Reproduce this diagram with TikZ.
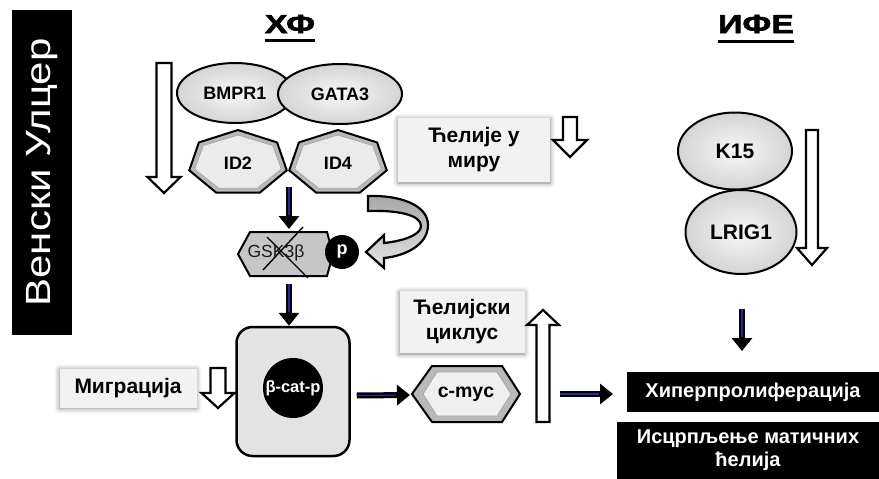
\documentclass[tikz,border=0pt]{standalone}
\usepackage{fontspec}
\setmainfont{Liberation Sans}
\newfontfamily\wideVert[FakeStretch=1.2]{Liberation Sans}
\newfontfamily\titlefont[FakeStretch=1.3,FakeBold=2.5]{Liberation Sans Bold}
\usetikzlibrary{arrows.meta,shadows.blur,calc,shapes.geometric}
\definecolor{boxgray}{HTML}{F2F2F2}
\definecolor{navyline}{RGB}{40,40,150}
\newcommand{\myHArrow}[6]{%
  \draw[hollow] ({#1-#4},{#2}) -- ({#1-#4},{#3-(#6)}) -- ({#1-#5},{#3-(#6)}) -- ({#1},{#3}) -- ({#1+#5},{#3-(#6)}) -- ({#1+#4},{#3-(#6)}) -- ({#1+#4},{#2}) -- cycle;}
\newcommand{\myFS}[1]{\fontsize{#1}{#1}\selectfont}
\begin{document}
\begin{tikzpicture}[x=1pt,y=-1pt,
  hollow/.style={draw=black,line width=2.2pt,fill=white,line join=miter},
  darr/.style={line width=6pt,-{Triangle[width=20pt,length=13pt]}},
  darrin/.style={line width=1.2pt,draw=navyline,shorten >=14pt},
  ell/.style={ellipse,draw,line width=2pt,inner color=gray!6,outer color=gray!34,inner sep=0pt,font=\bfseries\myFS{18}},
  sbox/.style={fill=boxgray,inner sep=0pt,align=center,font=\bfseries\fontsize{21}{25}\selectfont,
    blur shadow={shadow xshift=0pt,shadow yshift=-1pt,shadow blur radius=5pt,shadow opacity=50}},
  blkbox/.style={fill=black,text=white,inner sep=0pt,align=center,font=\bfseries\fontsize{20}{23}\selectfont},
  heptout/.style={draw=black,line width=2pt,fill=gray!55,line join=miter},
  heptin/.style={draw=gray!70,line width=0.8pt,fill=gray!16},
  lbl/.style={inner sep=0pt,font=\bfseries\myFS{18}},
  ttl/.style={inner sep=0pt,font=\titlefont\myFS{26}}
]
\useasboundingbox (0,0) rectangle (879,479);

% left vertical bar
\node[fill=black,text=white,rotate=90,minimum width=325pt,minimum height=60pt,inner sep=0pt,font=\wideVert\myFS{35}] (vb) at (42,172.5) {Венски Улцер};

% titles
\node[ttl,anchor=base] (hf) at (290,33) {ХФ};
\draw[line width=3pt] ($(hf.base west)+(0,7)$) -- ($(hf.base east)+(0,7)$);
\node[ttl,anchor=base] (ife) at (756,33) {ИФЕ};
\draw[line width=3pt] ($(ife.base west)+(0,8)$) -- ($(ife.base east)+(0,8)$);

% heptagons ID2, ID4
\coordinate (id2c) at (238,163);
\coordinate (id4c) at (338,163);
\foreach \c in {id2c,id4c}{
  \begin{scope}[shift={(\c)}]
    \draw[heptout] (270:50 and 33) \foreach \k in {1,...,6}{ -- ({270+\k*360/7}:50 and 33)} -- cycle;
    \draw[heptin] (270:44.5 and 28) \foreach \k in {1,...,6}{ -- ({270+\k*360/7}:44.5 and 28)} -- cycle;
  \end{scope}
}
\node[lbl] (id2) at (id2c) {ID2};
\node[lbl] (id4) at (id4c) {ID4};

% ellipses
\node[ell,minimum width=116pt,minimum height=60pt] (bmpr) at (235,93) {BMPR1};
\node[ell,minimum width=124pt,minimum height=60pt] (gata) at (340,94) {GATA3};

% left hollow arrow
\myHArrow{164}{63}{193}{7.5}{16.5}{16}

% GSK3b
\draw[draw=black,line width=2pt,fill=gray!45,line join=miter] (238,254) -- (250,232) -- (327,232) -- (333,254) -- (327,276) -- (250,276) -- cycle;
\node[inner sep=0pt,text=gray!20!black,font=\myFS{17.5}] (gsk) at (276,253) {GSK3β};
\draw[line width=1.4pt] (267,237) -- (308,278);
\draw[line width=1.4pt] (303,227) -- (263,270);
\node[circle,fill=black,minimum size=34pt,inner sep=0pt,text=white,font=\bfseries\myFS{18}] (p) at (342,252) {p};

% curved arrow
\draw[line width=2.2pt,top color=gray!70,bottom color=gray!22,line join=miter]
  (368,196) .. controls (400,195) and (428,205) .. (428,225)
  .. controls (428,245) and (405,256) .. (384,258)
  -- (384,268) -- (366,252) -- (384,235) -- (384,243)
  .. controls (403,241) and (421,235) .. (421,226)
  .. controls (421,215) and (398,210) .. (368,211) -- cycle;

% quiet cells box
\node[sbox,minimum width=152pt,minimum height=64pt] (miru) at (474,150) {Ћелије у\\миру};
\myHArrow{570}{117}{157}{7}{17}{17}

% dark arrow ID -> GSK
\coordinate (idj) at (289,187);
\coordinate (gsktop) at (289,229);
\draw[darr] (idj) -- (gsktop);
\draw[darrin] (idj) -- (gsktop);

% beta-catenin box
\node[draw=black,line width=2.5pt,rounded corners=16pt,fill=gray!22,minimum width=113pt,minimum height=129pt] (catbox) at (293,391.5) {};
\node[circle,fill=black,minimum size=60pt,inner sep=0pt,text=white,font=\bfseries\myFS{16.5}] (cat) at (293,388) {β-cat-p};
\coordinate (gskbot) at (289,284);
\draw[darr] (gskbot) -- (catbox.north -| gskbot);
\draw[darrin] (gskbot) -- (catbox.north -| gskbot);

% migration
\node[sbox,minimum width=137pt,minimum height=39pt] (migr) at (128,388) {Миграција};
\myHArrow{218}{368}{408}{7.5}{16.5}{15}

% c-myc
\draw[draw=black,line width=2pt,fill=gray!55,line join=miter] (412,394) -- (432,366) -- (502,366) -- (520,394) -- (502,422) -- (432,422) -- cycle;
\draw[draw=gray!70,line width=0.8pt,fill=gray!12] (423,394) -- (437,372) -- (497,372) -- (511,394) -- (497,416) -- (437,416) -- cycle;
\node[inner sep=0pt,font=\bfseries\myFS{19.5}] (cmyc) at (466,394) {c-myc};
\coordinate (cmycw) at (410,395);
\draw[darr] ($(catbox.east)+(6,4)$) -- (cmycw);
\draw[darrin] ($(catbox.east)+(6,4)$) -- (cmycw);

% cell cycle
\node[sbox,minimum width=125pt,minimum height=62pt] (cyc) at (462,322) {Ћелијски\\циклус};
\myHArrow{543}{422}{310}{6.5}{16}{-15}

% hyperproliferation / exhaustion
\node[blkbox,minimum width=252pt,minimum height=40pt] (hyper) at (753,392) {Хиперпролиферација};
\node[blkbox,minimum width=262pt,minimum height=57pt] (exh) at (748,450.5) {Исцрпљење матичних\\ћелија};
\coordinate (a4s) at (560,394);
\coordinate (a4e) at (613,394);
\draw[darr] (a4s) -- (a4e);
\draw[darrin] (a4s) -- (a4e);

% IFE
\node[ell,minimum width=111pt,minimum height=84pt,font=\bfseries\myFS{21}] (lrig) at (741,232) {LRIG1};
\node[ell,minimum width=114pt,minimum height=77pt,font=\bfseries\myFS{21}] (k15) at (735,151) {K15};
\myHArrow{812}{130}{265}{6}{15}{17}
\coordinate (a5s) at (742,309);
\coordinate (a5e) at (742,351);
\draw[darr] (a5s) -- (a5e);
\draw[darrin] (a5s) -- (a5e);

\end{tikzpicture}
\end{document}
